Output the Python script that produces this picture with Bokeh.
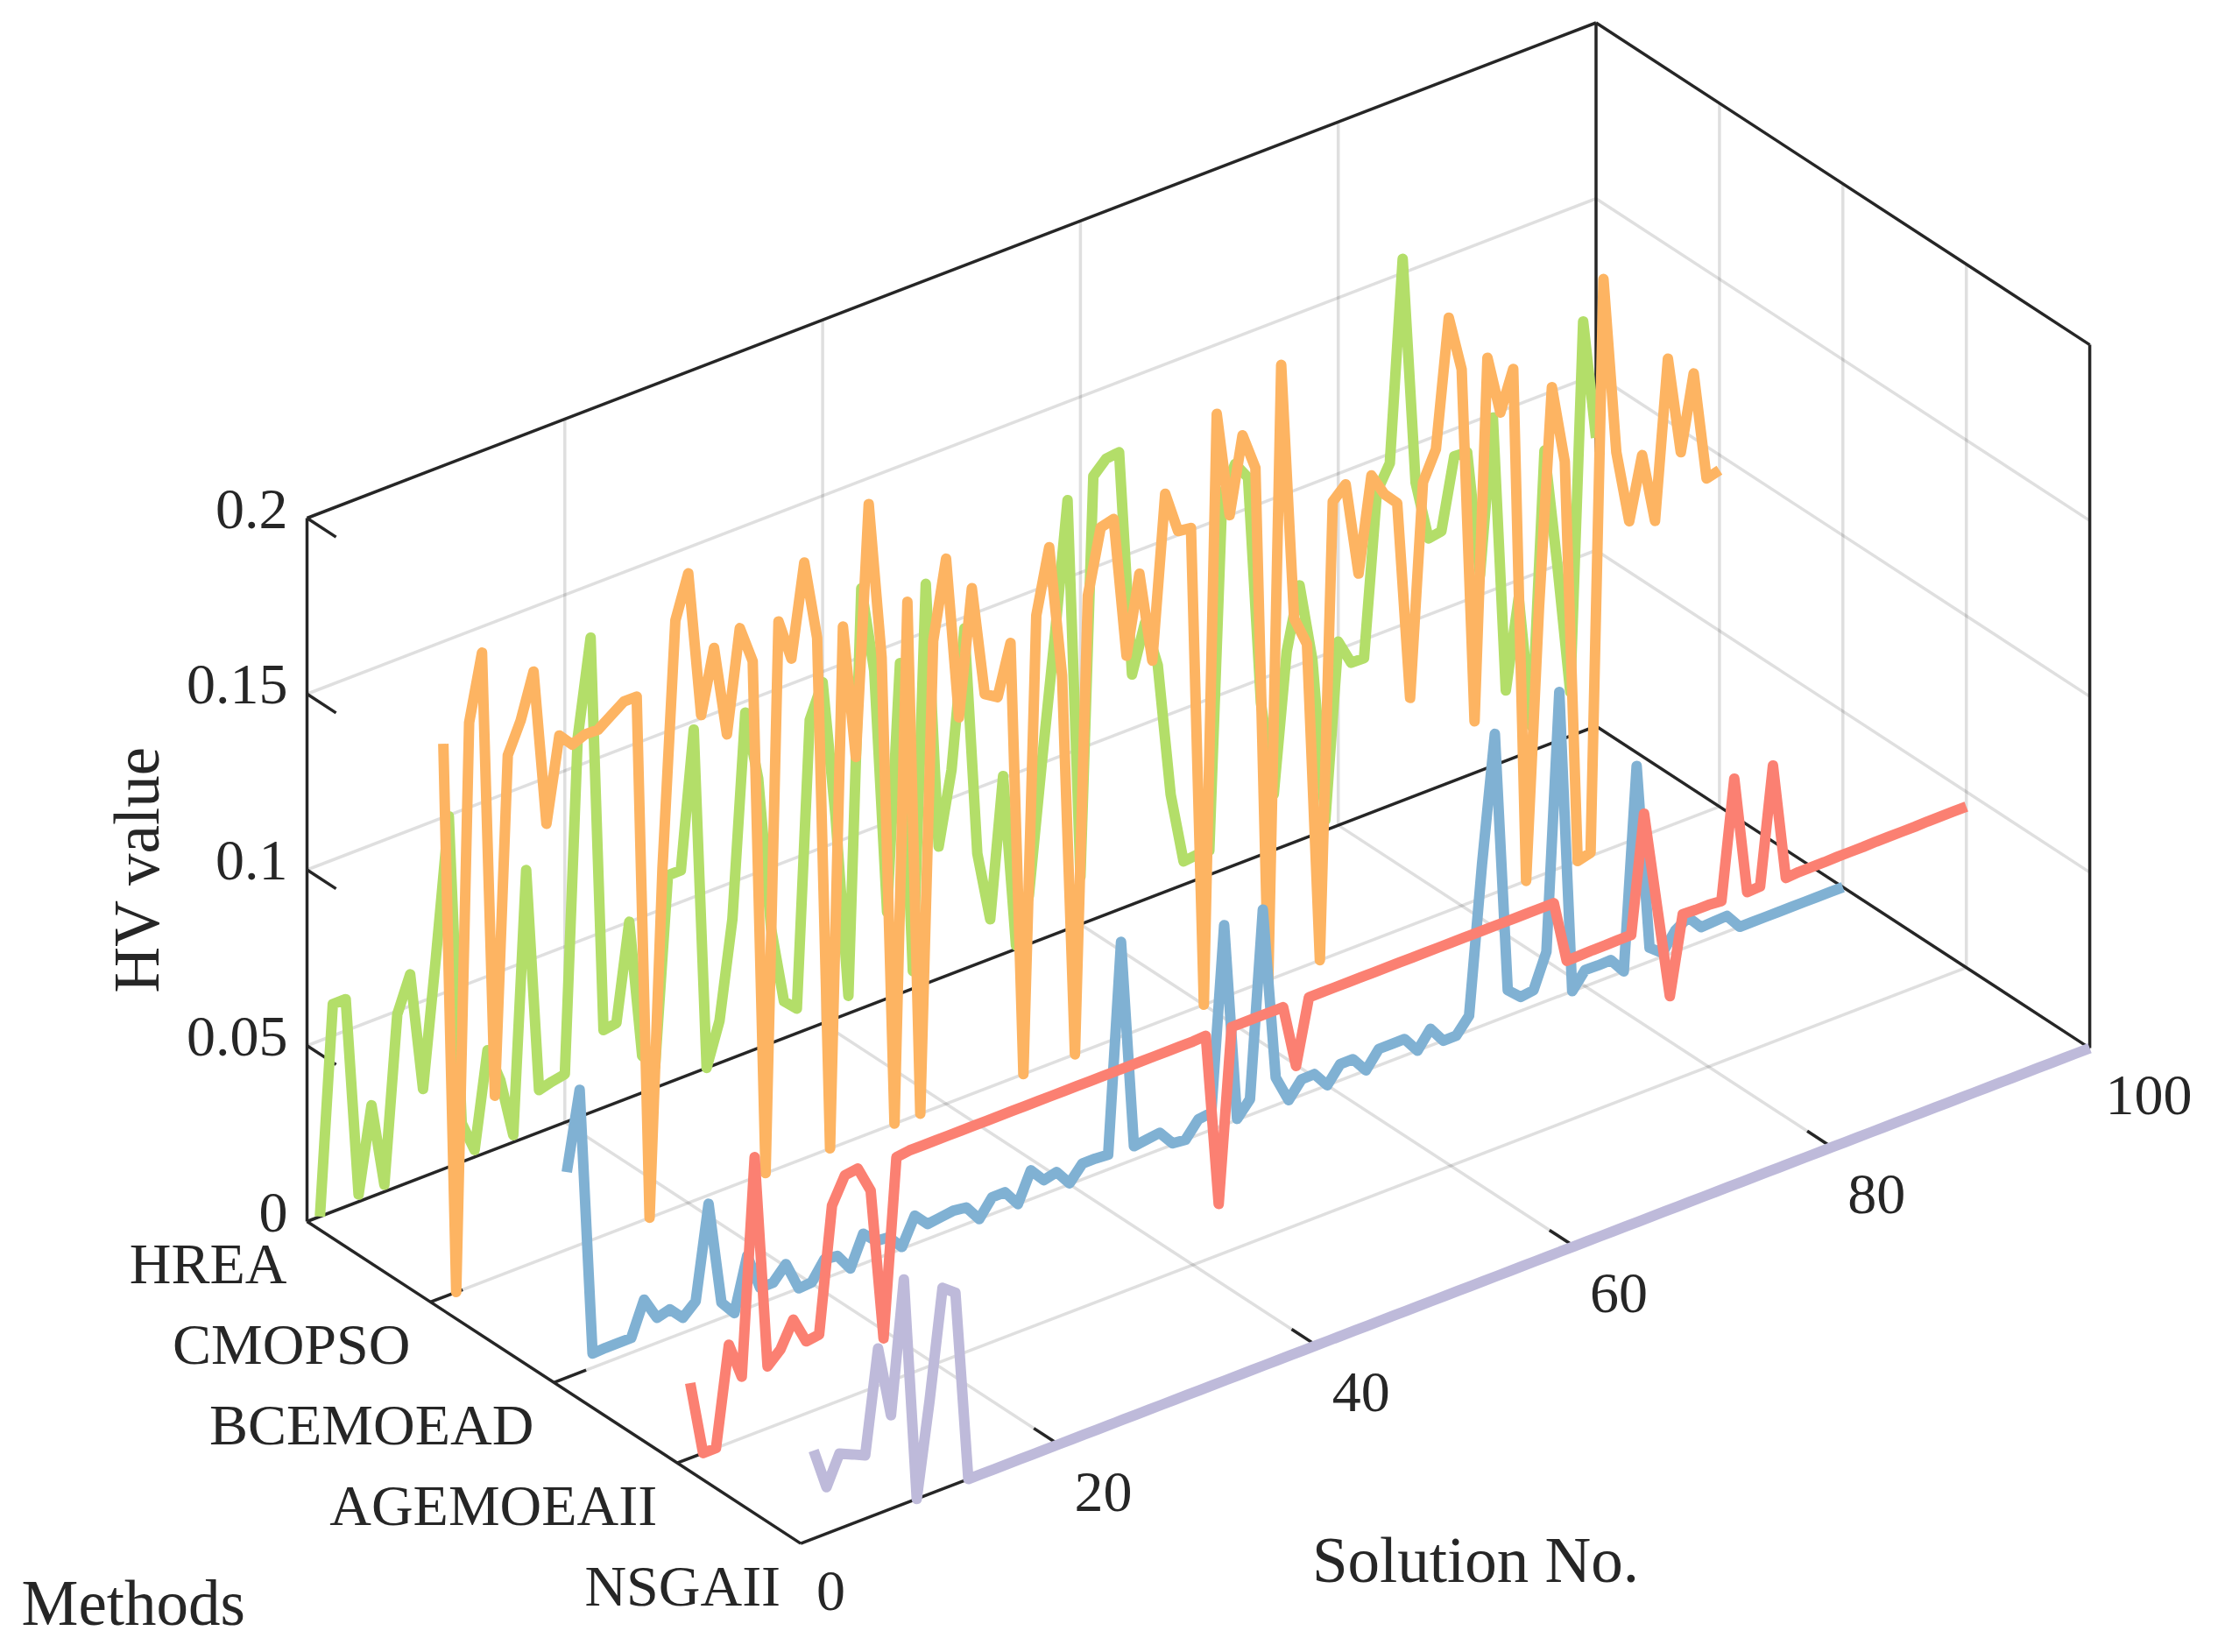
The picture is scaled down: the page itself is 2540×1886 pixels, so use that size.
from bokeh.plotting import figure
from bokeh.embed import file_html
from bokeh.resources import INLINE
from bokeh.models import Range1d
from bokeh.core.properties import value

methods = ["HREA", "CMOPSO", "BCEMOEAD", "AGEMOEAII", "NSGAII"]
solution_no = list(range(1, 101))
x_ticks = [0, 20, 40, 60, 80, 100]
z_ticks = [0, 0.05, 0.1, 0.15, 0.2]
z_tick_labels = ["0", "0.05", "0.1", "0.15", "0.2"]

hrea = [.000, .059, .059, .002, .026, .002, .049, .059, .025, .061,
        .0997, .011, .002, .029, .019, .002, .076, .012, .013, .0137,
        .108, .135, .022, .0226, .05, .0105, .006, .059, .059, .0976,
        .0, .012, .0395, .0968, .0767, .0326, .0105, .007, .0877, .097,
        .0575, .005, .1195, .0947, .0246, .094, .005, .1137, .0376, .058,
        .0968, .0314, .0113, .0506, .001, .0138, .05, .0843, .122, .0135,
        .126, .1296, .130, .0654, .0786, .0652, .027, .0066, .007, .0069,
        .106, .114, .1087, .0433, .0159, .055, .0724, .0497, .003, .0522,
        .0448, .0447, .0906, .0973, .154, .089, .0717, .0723, .0922, .092,
        .0557, .099, .02, .045, .007, .084, .05, .0125, .1165, .082]

cmopso = [.1573, .0, .1605, .179, .0516, .147, .1555, .168, .1233, .147,
          .143, .1445, .1444, .147, .1496, .1496, .0, .098, .167, .179,
          .1373, .155, .129, .1578, .147, .0, .1555, .1435, .1694, .1466,
          .0, .147, .1085, .179, .134, .0, .147, .0, .133, .155,
          .1085, .1438, .1123, .110, .124, .0, .129, .147, .109, .0,
          .129, .147, .148, .1077, .1296, .1035, .1495, .1375, .137, .0,
          .1666, .1364, .1577, .147, .0, .1735, .100, .0913, .0, .129,
          .1325, .1057, .1322, .1255, .1215, .0647, .1246, .1326, .1686, .1525,
          .051, .153, .136, .147, .0, .0763, .1376, .115, .0, .001,
          .1627, .112, .091, .1084, .0883, .133, .105, .126, .0947, .0957]

bcemoead = [.0584, .0804, .004, .0042, .0042, .0042, .0137, .0071, .0081, .0043,
            .0076, .0339, .0044, .0, .0149, .0044, .0044, .0083, .0, .0003,
            .0055, .005, .0, .0085, .005, .0047, .0005, .008, .0042, .0047,
            .0052, .0047, .0, .0048, .0048, .0, .0082, .004, .0049, .0003,
            .0045, .0045, .0042, .0633, .0038, .0043, .0048, .0004, .0, .0044,
            .0049, .0568, .0003, .0045, .057, .0078, .0, .0045, .0046, .0,
            .0046, .0046, .0, .0047, .0047, .0047, .0, .0048, .0, .0,
            .0043, .0458, .0816, .0073, .004, .0045, .014, .0865, .0, .0046,
            .0045, .0046, .0, .057, .0039, .001, .006, .0083, .0041, .0043,
            .0045, .0, .0, .0, .0, .0, .0, .0, .0, .0]

agemoeaii = [.0213, .0, .0, .028, .0175, .0785, .0176, .021, .0281, .0205,
             .021, .0563, .0635, .064, .0563, .0129, .063, .0635, .0635, .0635,
             .0635, .0635, .0635, .0635, .0635, .0635, .0635, .0635, .0635, .0635,
             .0635, .0635, .0635, .0635, .0635, .0635, .0635, .0635, .0635, .0635,
             .0637, .0145, .0634, .0634, .0634, .0634, .0634, .0453, .0634, .0634,
             .0634, .0634, .0634, .0634, .0634, .0634, .0634, .0634, .0634, .0634,
             .0634, .0634, .0634, .0634, .0634, .0634, .0634, .0634, .0456, .0457,
             .0458, .0458, .0459, .0459, .079, .0514, .0243, .0462, .046, .046,
             .0457, .0791, .0454, .0456, .0786, .0452, .0455, .0455, .0455, .0456,
             .0456, .0456, .0457, .0457, .0457, .0457, .0458, .0458, .0458, .0458]

nsgaii = [.025, .0132, .0213, .0197, .018, .047, .0266, .0638, .0, .0267,
          .0572, .0544, .0, .0, .0, .0, .0, .0, .0, .0,
          .0, .0, .0, .0, .0, .0, .0, .0, .0, .0,
          .0, .0, .0, .0, .0, .0, .0, .0, .0, .0,
          .0, .0, .0, .0, .0, .0, .0, .0, .0, .0,
          .0, .0, .0, .0, .0, .0, .0, .0, .0, .0,
          .0, .0, .0, .0, .0, .0, .0, .0, .0, .0,
          .0, .0, .0, .0, .0, .0, .0, .0, .0, .0,
          .0, .0, .0, .0, .0, .0, .0, .0, .0, .0,
          .0, .0, .0, .0, .0, .0, .0, .0, .0, .0]

series = [hrea, cmopso, bcemoead, agemoeaii, nsgaii]
colors = ["#B3DE69", "#FDB462", "#80B1D3", "#FB8072", "#BEBADA"]

# fixed view of the 3D box: page pixels per unit of each data axis
ORIGIN = (351.0, 1394.0)
PER_X = (14.715, -5.655)
PER_Y = (140.9, 91.9)
PER_Z = 4015.0


def project(x, y, z):
    return (ORIGIN[0] + PER_X[0] * x + PER_Y[0] * y,
            ORIGIN[1] + PER_X[1] * x + PER_Y[1] * y - PER_Z * z)


def seg(a, b):
    pa, pb = project(*a), project(*b)
    return [pa[0], pb[0]], [pa[1], pb[1]]


p = figure(width=2520, height=1870, x_range=Range1d(1, 2521), y_range=Range1d(1870, 0),
           output_backend="svg", toolbar_location=None, x_axis_type=None, y_axis_type=None,
           min_border=0, outline_line_color=None, background_fill_color="white",
           border_fill_color="white")
p.xgrid.visible = False
p.ygrid.visible = False

INK = "#262626"
X_MAX, Y_MAX, Z_MAX = 100, 4, 0.2

# grid
gx, gy = [], []
for x in x_ticks[1:-1]:
    for a, b in [((x, 0, 0), (x, Y_MAX, 0)), ((x, 0, 0), (x, 0, Z_MAX))]:
        s = seg(a, b); gx.append(s[0]); gy.append(s[1])
for y in [1, 2, 3]:
    for a, b in [((0, y, 0), (X_MAX, y, 0)), ((X_MAX, y, 0), (X_MAX, y, Z_MAX))]:
        s = seg(a, b); gx.append(s[0]); gy.append(s[1])
for z in z_ticks[1:-1]:
    for a, b in [((0, 0, z), (X_MAX, 0, z)), ((X_MAX, 0, z), (X_MAX, Y_MAX, z))]:
        s = seg(a, b); gx.append(s[0]); gy.append(s[1])
p.multi_line(gx, gy, line_color=INK, line_alpha=0.15, line_width=3.5)

# box
box = [((0, 0, 0), (0, 0, Z_MAX)), ((0, 0, Z_MAX), (X_MAX, 0, Z_MAX)),
       ((X_MAX, 0, Z_MAX), (X_MAX, Y_MAX, Z_MAX)), ((X_MAX, 0, 0), (X_MAX, 0, Z_MAX)),
       ((X_MAX, Y_MAX, 0), (X_MAX, Y_MAX, Z_MAX)), ((0, 0, 0), (X_MAX, 0, 0)),
       ((X_MAX, 0, 0), (X_MAX, Y_MAX, 0)), ((0, 0, 0), (0, Y_MAX, 0)),
       ((0, Y_MAX, 0), (X_MAX, Y_MAX, 0))]
bx, by = [], []
for a, b in box:
    s = seg(a, b); bx.append(s[0]); by.append(s[1])
# ticks
for x in x_ticks[1:-1]:
    s = seg((x, Y_MAX, 0), (x, Y_MAX - 0.2, 0)); bx.append(s[0]); by.append(s[1])
for y in [1, 2, 3]:
    s = seg((0, y, 0), (2.5, y, 0)); bx.append(s[0]); by.append(s[1])
for z in z_ticks[1:]:
    s = seg((0, 0, z), (0, 0.235, z)); bx.append(s[0]); by.append(s[1])
p.multi_line(bx, by, line_color=INK, line_width=3.5)

# series
for i, (vals, col) in enumerate(zip(series, colors)):
    pts = [project(x, i, v) for x, v in zip(solution_no, vals)]
    p.line([q[0] for q in pts], [q[1] for q in pts], line_color=col, line_width=12,
           line_join="round", line_cap="butt")

FONT = value("Liberation Serif")


def label(x, y, txt, size, align="left", angle=0.0):
    p.text([x], [y], text=[txt], text_font=FONT, text_font_size=value(size), text_color=INK,
           text_align=align, text_baseline="middle", angle=angle)


for z, t in zip(z_ticks, z_tick_labels):
    q = project(0, 0, z)
    label(q[0] - 22, q[1] - 10.5, t, "66px", "right")
for i, m in enumerate(methods):
    q = project(0, i, 0)
    label(q[0] - 23, q[1] + 48, m, "66px", "right")
for x in x_ticks:
    q = project(x, Y_MAX, 0)
    label(q[0] + 18, q[1] + 54, str(x), "66px", "left")

label(1685, 1781, "Solution No.", "73px", "center")
label(25, 1830, "Methods", "73px", "left")
label(157, 992, "HV value", "73px", "center", angle=1.5707963)

open("out.html", "w").write(file_html(p, INLINE))
